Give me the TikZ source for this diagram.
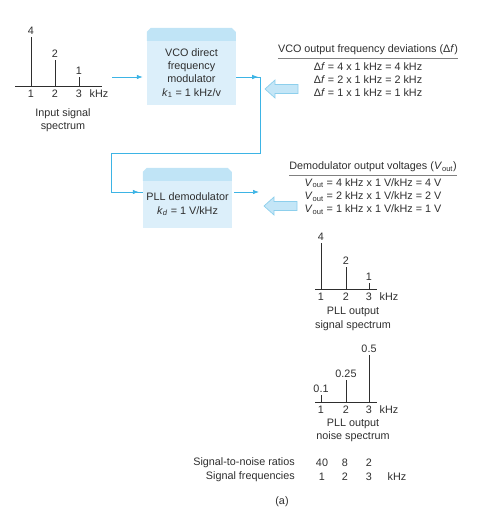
\documentclass[tikz,border=0pt]{standalone}
\usepackage{fontspec}
\setmainfont{Liberation Sans}
\usepackage{xcolor}
\usetikzlibrary{arrows.meta,positioning}
\definecolor{flowblue}{HTML}{3DB4E5}
\definecolor{boxblue}{HTML}{DCEFFA}
\definecolor{bandblue}{HTML}{C0E4F6}
\definecolor{hollowfill}{HTML}{C4E6F7}
\definecolor{hollowline}{HTML}{8DCFEC}
\definecolor{inkgray}{HTML}{2E2E2E}
\newcommand\figfont{\fontsize{10.8}{13.3}\selectfont}
\tikzset{
	txt/.style={inner sep=0pt, font=\figfont, text=inkgray},
	lines/.style={txt, align=center},
	blk/.style={lines, fill=boxblue, minimum width=89pt},
	hdr/.style={txt, inner ysep=3pt},
	rule/.style={draw=gray, line width=0.8pt},
	bar/.style={draw=inkgray, line width=0.8pt},
	flowline/.style={draw=flowblue, line width=0.7pt},
	flow/.style={flowline, -{Latex[length=6pt,width=4.5pt]}},
	hollow/.style={draw=hollowline, fill=hollowfill, line width=0.7pt}
}
\newcommand\band[1]{\fill[bandblue] (#1.north west) -- ++(0,-9) -- ++(4,-4) -- ++(81,0) -- ++(4,4) -- ++(0,9) -- cycle;}
\newcommand\hollowarrow[2]{\draw[hollow] (#1,#2) -- ++(10,-9) -- ++(0,4.5) -- ++(23,0) -- ++(0,9) -- ++(-23,0) -- ++(0,4.5) -- cycle;}
\begin{document}
\begin{tikzpicture}[x=1pt,y=-1pt]
\useasboundingbox (0,0) rectangle (485,528);

\draw[bar] (15,86) -- (102,86);
\foreach \x/\h/\v in {31/49/4, 55/26/2, 79/9/1}{
	\draw[bar] (\x,86) -- ++(0,-\h) node[txt, anchor=south, inner sep=2pt]{\v};
	}
\foreach \x/\v in {31/1, 55/2, 79/3, 99/kHz}
	\node[txt] at (\x,93.5) {\v};
\node[lines] (inlabel) at (63,120) {Input signal\\spectrum};

\node[blk, minimum height=64pt] (vco) at (191.5,73)
	{VCO direct\\frequency\\modulator\\\textit{k}\textsubscript{1} = 1 kHz/v};
\band{vco}
\node[blk, minimum height=47pt] (pll) at (187.5,204.5)
	{PLL demodulator\\\textit{k}\textsubscript{\textit{d}} = 1 V/kHz};
\band{pll}

\coordinate (insrc) at (112,77);
\coordinate (bend) at (260,153);
\coordinate (drop) at (111,153);
\coordinate (pllout) at (259,192);
\draw[flow, shorten >=4pt] (insrc) -- (insrc -| vco.west);
\draw[flowline] ([yshift=-4pt]vco.east) -| (bend) -- (drop) |- ([yshift=12.5pt]pll.west);
\draw[flow] ([yshift=-4pt]vco.east) -- ++(22,0);
\draw[flow, shorten >=4pt] (drop |- pllout) -- ([yshift=12.5pt]pll.west);
\draw[flow, shorten <=2pt] ([yshift=12.5pt]pll.east) -- (pllout);

\hollowarrow{265}{89}
\hollowarrow{264}{206}

\node[hdr] (vcohead) at (368,50) {VCO output frequency deviations (Δ\textit{f})};
\draw[rule] (vcohead.south west) -- (vcohead.south east);
\node[lines] (dev) at (368,79.5) {Δ\textit{f} = 4 x 1 kHz = 4 kHz\\Δ\textit{f} = 2 x 1 kHz = 2 kHz\\Δ\textit{f} = 1 x 1 kHz = 1 kHz};

\node[hdr] (demhead) at (373,167) {Demodulator output voltages (\textit{V}\textsubscript{out})};
\draw[rule] (demhead.south west) -- (demhead.south east);
\node[lines] (volt) at (373,196.5) {\textit{V}\textsubscript{out} = 4 kHz x 1 V/kHz = 4 V\\\textit{V}\textsubscript{out} = 2 kHz x 1 V/kHz = 2 V\\\textit{V}\textsubscript{out} = 1 kHz x 1 V/kHz = 1 V};

\draw[bar] (315,289) -- (377,289);
\foreach \x/\h/\v in {321/46/4, 346/22/2, 369/6/1}{
	\draw[bar] (\x,289) -- ++(0,-\h) node[txt, anchor=south, inner sep=2pt]{\v};
	}
\foreach \x/\v in {321/1, 346/2, 369/3, 389/kHz}
	\node[txt] at (\x,296.5) {\v};
\node[lines] (siglabel) at (353,319) {PLL output\\signal spectrum};

\draw[bar] (315,402) -- (377,402);
\foreach \x/\h/\v in {321/7/0.1, 346/22/0.25, 369/47/0.5}{
	\draw[bar] (\x,402) -- ++(0,-\h) node[txt, anchor=south, inner sep=2pt]{\v};
	}
\foreach \x/\v in {321/1, 346/2, 369/3, 389/kHz}
	\node[txt] at (\x,409.5) {\v};
\node[lines] (noiselabel) at (353,430.5) {PLL output\\noise spectrum};

\node[txt, anchor=east] (snr) at (295,463) {Signal-to-noise ratios};
\node[txt, anchor=east] (freq) at (295,477) {Signal frequencies};
\foreach \x/\a/\b in {322/40/1, 345/8/2, 369/2/3}{
	\node[txt] at (\x,463) {\a};
	\node[txt] at (\x,477) {\b};
	}
\node[txt] at (397,477) {kHz};
\node[txt] (caption) at (282,502) {(a)};
\end{tikzpicture}
\end{document}
